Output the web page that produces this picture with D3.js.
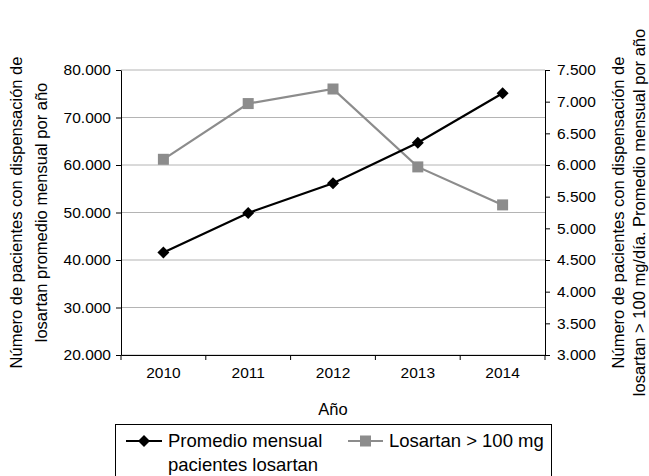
<!DOCTYPE html>
<html>
<head>
<meta charset="utf-8">
<script src="https://cdn.jsdelivr.net/npm/d3@7"></script>
<style>
  html, body { margin: 0; padding: 0; background: #fff; }
  svg text { font-family: "Liberation Sans", Arial, Helvetica, sans-serif; fill: #000; }
</style>
</head>
<body>
<svg id="chart" width="649" height="476"></svg>
<script>
// datos
var years = ["2010", "2011", "2012", "2013", "2014"];
var promedio = [41600, 49900, 56150, 64700, 75100];     // eje izquierdo
var losartan100 = [6090, 6970, 7200, 5970, 5370];       // eje derecho
var leftTicks = [20000, 30000, 40000, 50000, 60000, 70000, 80000];
var rightTicks = [3000, 3500, 4000, 4500, 5000, 5500, 6000, 6500, 7000, 7500];

var m = {left: 121, right: 545, top: 70, bottom: 355};
var svg = d3.select("#chart");

var loc = d3.formatLocale({decimal: ",", thousands: ".", grouping: [3], currency: ["", ""]});
var fmt = loc.format(",d");

var x = d3.scaleBand().domain(years).range([m.left, m.right]).padding(0);
var yL = d3.scaleLinear().domain([20000, 80000]).range([m.bottom, m.top]);
var yR = d3.scaleLinear().domain([3000, 7500]).range([m.bottom, m.top]);

// lineas de cuadricula
svg.append("g")
    .selectAll("line")
    .data(leftTicks)
    .enter()
    .append("line")
    .attr("x1", m.left)
    .attr("x2", m.right)
    .attr("y1", function(d) { return yL(d); })
    .attr("y2", function(d) { return yL(d); })
    .attr("stroke", "#b4b4b4")
    .attr("stroke-width", 1);

// eje izquierdo
var gL = svg.append("g")
    .attr("transform", "translate(" + m.left + ",0)")
    .call(d3.axisLeft(yL).tickValues(leftTicks).tickFormat(fmt).tickSize(5).tickSizeOuter(0).tickPadding(5));
gL.selectAll("text").style("font-size", "15.5px");

// eje derecho
var gR = svg.append("g")
    .attr("transform", "translate(" + m.right + ",0)")
    .call(d3.axisRight(yR).tickValues(rightTicks).tickFormat(fmt).tickSize(5).tickSizeOuter(0).tickPadding(7));
gR.selectAll("text").style("font-size", "15.5px");

// eje x
var gX = svg.append("g")
    .attr("transform", "translate(0," + m.bottom + ")")
    .call(d3.axisBottom(x).tickSize(0).tickSizeOuter(0).tickPadding(12));
gX.selectAll("text").style("font-size", "15.5px");
var bounds = years.map(function(d) { return x(d); }).concat([x(years[years.length - 1]) + x.bandwidth()]);
gX.selectAll("line.bound")
    .data(bounds)
    .enter()
    .append("line")
    .attr("class", "bound")
    .attr("x1", function(d) { return d; })
    .attr("x2", function(d) { return d; })
    .attr("y1", 0)
    .attr("y2", 5)
    .attr("stroke", "#000");
svg.selectAll(".domain").attr("stroke", "#000");

function cx(i) { return x(years[i]) + x.bandwidth() / 2; }

// rombo como cuadrado girado
var diamond = "M0,-6L6,0L0,6L-6,0Z";

// serie gris (eje derecho)
svg.append("path")
    .datum(losartan100)
    .attr("fill", "none")
    .attr("stroke", "#8c8c8c")
    .attr("stroke-width", 2.2)
    .attr("d", d3.line().x(function(d, i) { return cx(i); }).y(function(d) { return yR(d); }));
svg.selectAll("rect.sq")
    .data(losartan100)
    .enter()
    .append("rect")
    .attr("class", "sq")
    .attr("x", function(d, i) { return cx(i) - 5.5; })
    .attr("y", function(d) { return yR(d) - 5.5; })
    .attr("width", 11)
    .attr("height", 11)
    .attr("fill", "#8c8c8c");

// serie negra (eje izquierdo)
svg.append("path")
    .datum(promedio)
    .attr("fill", "none")
    .attr("stroke", "#000")
    .attr("stroke-width", 2.2)
    .attr("d", d3.line().x(function(d, i) { return cx(i); }).y(function(d) { return yL(d); }));
svg.selectAll("path.dm")
    .data(promedio)
    .enter()
    .append("path")
    .attr("class", "dm")
    .attr("d", diamond)
    .attr("transform", function(d, i) { return "translate(" + cx(i) + "," + yL(d) + ")"; })
    .attr("fill", "#000");

// titulos de ejes
var midY = (m.top + m.bottom) / 2;
var tl = svg.append("text")
    .attr("transform", "translate(22," + midY + ") rotate(-90)")
    .attr("text-anchor", "middle")
    .style("font-size", "16.5px");
tl.append("tspan").attr("x", 0).attr("dy", 0).text("Número de pacientes con dispensación de");
tl.append("tspan").attr("x", 0).attr("dy", 25).text("losartan promedio mensual por año");

var tr = svg.append("text")
    .attr("transform", "translate(624," + midY + ") rotate(-90)")
    .attr("text-anchor", "middle")
    .style("font-size", "16.5px");
tr.append("tspan").attr("x", 0).attr("dy", 0).text("Número de pacientes con dispensación de");
tr.append("tspan").attr("x", 0).attr("dy", 21).text("losartan > 100 mg/día. Promedio mensual por año");

svg.append("text")
    .attr("x", (m.left + m.right) / 2)
    .attr("y", 415)
    .attr("text-anchor", "middle")
    .style("font-size", "16.5px")
    .text("Año");

// leyenda
var lg = svg.append("g");
lg.append("rect")
    .attr("x", 115.5).attr("y", 424.5)
    .attr("width", 436).attr("height", 60)
    .attr("fill", "none").attr("stroke", "#000").attr("stroke-width", 1);
lg.append("line")
    .attr("x1", 126).attr("x2", 162).attr("y1", 441).attr("y2", 441)
    .attr("stroke", "#000").attr("stroke-width", 2.2);
lg.append("path").attr("d", diamond).attr("transform", "translate(144,441)").attr("fill", "#000");
var lt = lg.append("text").attr("x", 168).attr("y", 447).style("font-size", "18.5px");
lt.append("tspan").attr("x", 168).attr("dy", 0).text("Promedio mensual");
lt.append("tspan").attr("x", 168).attr("dy", 24).text("pacientes losartan");
lg.append("line")
    .attr("x1", 348).attr("x2", 383).attr("y1", 441).attr("y2", 441)
    .attr("stroke", "#8c8c8c").attr("stroke-width", 2.2);
lg.append("rect").attr("x", 360).attr("y", 435.5).attr("width", 11).attr("height", 11).attr("fill", "#8c8c8c");
lg.append("text").attr("x", 389).attr("y", 447).style("font-size", "18.5px").text("Losartan > 100 mg");
</script>
</body>
</html>
